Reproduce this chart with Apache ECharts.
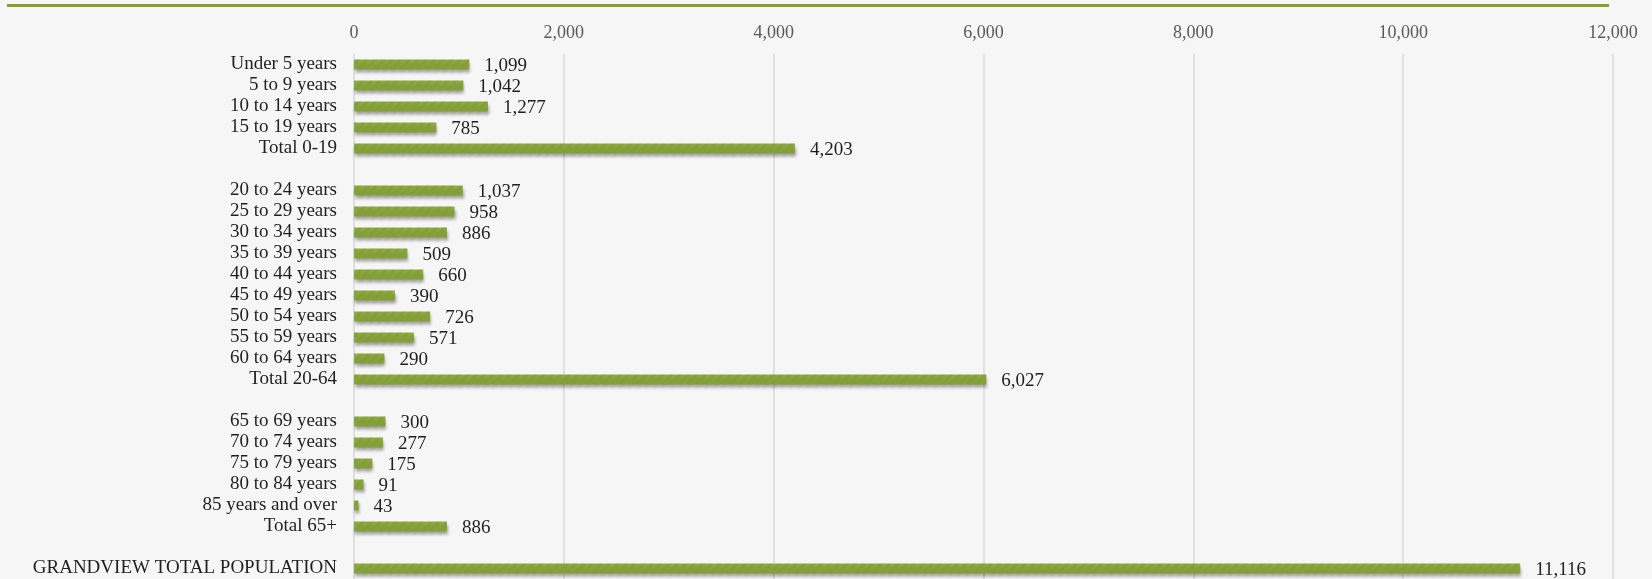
<!DOCTYPE html>
<html>
<head>
<meta charset="utf-8">
<script src="https://cdn.jsdelivr.net/npm/echarts@6/dist/echarts.min.js"></script>
<style>
  html, body { margin: 0; padding: 0; background: #f6f6f6; }
  #main { width: 1652px; height: 579px; }
</style>
</head>
<body>
<div id="main"></div>
<script>
  // 年龄分组 (空字符串 = 分组之间的空行)
  var categories = [
    'Under 5 years', '5 to 9 years', '10 to 14 years', '15 to 19 years', 'Total 0-19',
    '',
    '20 to 24 years', '25 to 29 years', '30 to 34 years', '35 to 39 years', '40 to 44 years',
    '45 to 49 years', '50 to 54 years', '55 to 59 years', '60 to 64 years', 'Total 20-64',
    '',
    '65 to 69 years', '70 to 74 years', '75 to 79 years', '80 to 84 years', '85 years and over', 'Total 65+',
    '',
    'GRANDVIEW TOTAL POPULATION'
  ];
  var population = [
    1099, 1042, 1277, 785, 4203,
    '-',
    1037, 958, 886, 509, 660, 390, 726, 571, 290, 6027,
    '-',
    300, 277, 175, 91, 43, 886,
    '-',
    11116
  ];
  var axisMin = 0;
  var axisMax = 12000;
  var axisStep = 2000;

  var fontFamily = '"Liberation Serif", "DejaVu Serif", serif';

  function fmt(v) {
    return String(v).replace(/\B(?=(\d{3})+(?!\d))/g, ',');
  }

  var myChart = echarts.init(document.getElementById('main'));
  myChart.setOption({
    backgroundColor: '#f6f6f6',
    animation: false,
    textStyle: { fontFamily: fontFamily },
    grid: {
      left: 354,
      right: 39,
      top: 54,
      bottom: 0,
      containLabel: false
    },
    // 顶部绿色横线
    graphic: [{
      type: 'rect',
      shape: { x: 7, y: 4, width: 1602, height: 3 },
      style: { fill: '#86a02c' }
    }],
    xAxis: {
      type: 'value',
      position: 'top',
      min: axisMin,
      max: axisMax,
      interval: axisStep,
      axisLine: { show: false },
      axisTick: { show: false },
      splitLine: {
        lineStyle: { color: '#d8d8d8', width: 1.5 }  //竖线颜色
      },
      axisLabel: {
        margin: 12,
        color: '#595959',
        fontSize: 18,
        fontFamily: fontFamily,
        formatter: function (v) { return fmt(v); }
      }
    },
    yAxis: {
      type: 'category',
      inverse: true,
      data: categories,
      axisLine: { show: false },
      axisTick: { show: false },
      axisLabel: {
        interval: 0,
        margin: 17,
        padding: [4, 0, 0, 0],
        color: '#1f1f1f',
        fontSize: 19,
        fontFamily: fontFamily
      }
    },
    series: [{
      type: 'bar',
      data: population,
      barWidth: 10,
      itemStyle: {
        color: '#8fac3f',
        shadowColor: 'rgba(0, 0, 0, 0.3)',
        shadowBlur: 3,
        shadowOffsetX: 1,
        shadowOffsetY: 3,
        decal: {
          symbol: 'rect',
          color: 'rgba(70, 90, 20, 0.1)',
          dashArrayX: [1, 0],
          dashArrayY: [3, 3],
          rotation: -Math.PI / 4
        }
      },
      label: {
        show: true,
        position: 'right',
        distance: 15,
        offset: [0, 2],
        color: '#1f1f1f',
        fontSize: 19,
        fontFamily: fontFamily,
        formatter: function (p) { return fmt(p.value); }
      }
    }]
  });
</script>
</body>
</html>
